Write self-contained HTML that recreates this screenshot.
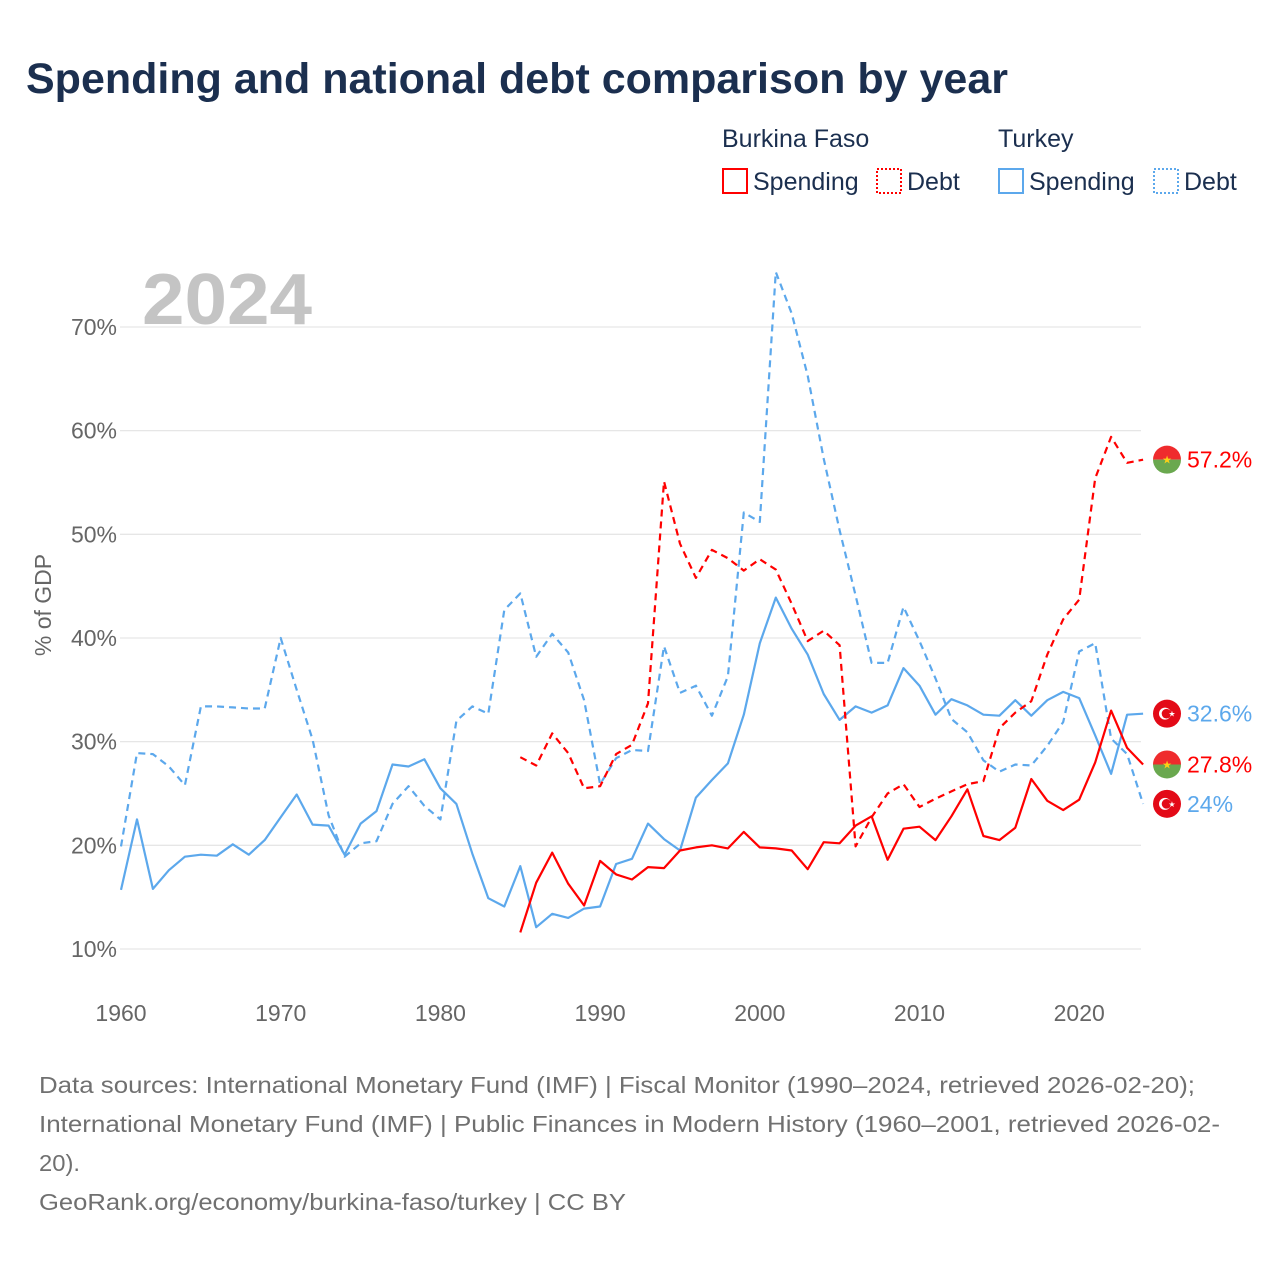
<!DOCTYPE html>
<html><head><meta charset="utf-8">
<style>
body{margin:0;background:#fff;font-family:"Liberation Sans",sans-serif;}
#wrap{position:relative;width:1280px;height:1280px;overflow:hidden;}
svg text{font-family:"Liberation Sans",sans-serif;}
</style></head>
<body>
<div id="wrap">
<svg id="chart" width="1280" height="1280" xmlns="http://www.w3.org/2000/svg">
<text x="26" y="93" font-size="43" font-weight="bold" fill="#1b2f4f">Spending and national debt comparison by year</text>
<g font-size="25" fill="#1b2f4f">
<text x="722" y="147" fill="#1b2f4f">Burkina Faso</text>
<text x="998" y="147" fill="#1b2f4f">Turkey</text>
<g><rect x="723" y="169" width="24" height="24" fill="none" stroke="#ff0000" stroke-width="2"/><text x="753" y="190" fill="#1b2f4f">Spending</text></g>
<g><rect x="877" y="169" width="24" height="24" fill="none" stroke="#ff0000" stroke-width="2" stroke-dasharray="2,2"/><text x="907" y="190" fill="#1b2f4f">Debt</text></g>
<g><rect x="999" y="169" width="24" height="24" fill="none" stroke="#5ca8ec" stroke-width="2"/><text x="1029" y="190" fill="#1b2f4f">Spending</text></g>
<g><rect x="1154" y="169" width="24" height="24" fill="none" stroke="#5ca8ec" stroke-width="2" stroke-dasharray="2,2"/><text x="1184" y="190" fill="#1b2f4f">Debt</text></g>
</g>
<text x="142" y="324" font-size="72" font-weight="bold" fill="#c4c4c4" textLength="170" lengthAdjust="spacingAndGlyphs">2024</text>
<text transform="translate(51,605) rotate(-90)" text-anchor="middle" font-size="23" fill="#666">% of GDP</text>
<g id="grid"></g><g id="xt"></g><g id="series"></g><g id="ends"></g>
<g font-size="23.5" fill="#707070">
<text x="39" y="1093" textLength="1156" lengthAdjust="spacingAndGlyphs">Data sources: International Monetary Fund (IMF) | Fiscal Monitor (1990–2024, retrieved 2026-02-20);</text>
<text x="39" y="1132" textLength="1181" lengthAdjust="spacingAndGlyphs">International Monetary Fund (IMF) | Public Finances in Modern History (1960–2001, retrieved 2026-02-</text>
<text x="39" y="1171" textLength="41" lengthAdjust="spacingAndGlyphs">20).</text>
<text x="39" y="1210" textLength="587" lengthAdjust="spacingAndGlyphs">GeoRank.org/economy/burkina-faso/turkey | CC BY</text>
</g>
</svg>
</div>
<script>
const yTicks=[10,20,30,40,50,60,70];
const xTicks=[1960,1970,1980,1990,2000,2010,2020];
const trSpendStart=1960;
const trSpending=[15.7,22.5,15.8,17.6,18.9,19.1,19.0,20.1,19.1,20.5,22.7,24.9,22.0,21.9,19.1,22.1,23.3,27.8,27.6,28.3,25.5,24.0,19.2,14.9,14.1,18.0,12.1,13.4,13.0,13.9,14.1,18.2,18.7,22.1,20.6,19.5,24.6,26.3,27.9,32.6,39.5,43.9,40.9,38.4,34.6,32.1,33.4,32.8,33.5,37.1,35.4,32.6,34.1,33.5,32.6,32.5,34.0,32.5,34.0,34.8,34.2,30.6,26.9,32.6,32.7];
const trDebt=[19.9,28.9,28.8,27.6,25.8,33.4,33.4,33.3,33.2,33.2,40.0,35.0,30.2,22.9,18.9,20.2,20.4,24.0,25.7,23.8,22.5,32.0,33.4,32.7,42.7,44.3,38.2,40.4,38.6,34.0,25.9,28.4,29.2,29.1,39.2,34.7,35.4,32.5,36.3,52.1,51.2,75.3,71.3,65.3,57.3,50.4,44.1,37.6,37.6,43.0,39.7,36.1,32.2,30.9,28.2,27.1,27.8,27.7,29.6,31.9,38.7,39.5,30.3,28.8,24.0];
const bfStart=1985;
const bfSpending=[11.6,16.4,19.3,16.3,14.2,18.5,17.2,16.7,17.9,17.8,19.5,19.8,20.0,19.7,21.3,19.8,19.7,19.5,17.7,20.3,20.2,21.9,22.8,18.6,21.6,21.8,20.5,22.8,25.4,20.9,20.5,21.7,26.4,24.3,23.4,24.4,28.0,33.0,29.4,27.8];
const bfDebt=[28.5,27.7,30.8,28.9,25.5,25.7,28.8,29.7,33.7,55.1,49.1,45.8,48.5,47.7,46.5,47.6,46.6,43.3,39.7,40.7,39.3,19.9,22.7,25.0,25.9,23.7,24.5,25.2,25.9,26.2,31.3,32.8,33.9,38.4,41.8,43.7,55.4,59.4,56.9,57.2];
const NS='http://www.w3.org/2000/svg';
function X(yr){return 121+(yr-1960)*15.97;}
function Y(v){return 949-(v-10)*10.367;}
function mk(tag,attrs,parent){const e=document.createElementNS(NS,tag);for(const k in attrs)e.setAttribute(k,attrs[k]);parent.appendChild(e);return e;}
const grid=document.getElementById('grid');
yTicks.forEach(t=>{
 const l=mk('line',{x1:120,x2:1141,y1:Y(t),y2:Y(t),stroke:'#e6e6e6','stroke-width':1.3},grid);
 
 
 const tx=mk('text',{x:117,y:Y(t)+8,'text-anchor':'end','font-size':23,fill:'#666'},grid);
 tx.textContent=t+'%';
 
 
});
const xt=document.getElementById('xt');
xTicks.forEach(t=>{
 const tx=mk('text',{x:X(t),y:1021,'text-anchor':'middle','font-size':23,fill:'#666'},xt);
 tx.textContent=t;
 
 
});
const ser=document.getElementById('series');
function line(vals,start,color,dash,name){
 const pts=vals.map((v,i)=>X(start+i).toFixed(1)+','+Y(v).toFixed(1)).join(' ');
 const p=mk('polyline',{points:pts,fill:'none',stroke:color,'stroke-width':2.2,'stroke-linejoin':'round'},ser);
 if(dash)p.setAttribute('stroke-dasharray','7,5');
 
 
}
line(trDebt,trSpendStart,'#5ca8ec',true,'turkey-debt-line');
line(trSpending,trSpendStart,'#5ca8ec',false,'turkey-spending-line');
line(bfDebt,bfStart,'#ff0000',true,'burkina-debt-line');
line(bfSpending,bfStart,'#ff0000',false,'burkina-spending-line');
const ends=document.getElementById('ends');
function flag(v,kind,label,color,name){
 const cy=Y(v),cx=1167;
 const g=mk('g',{},ends);
 
 
 if(kind==='bf'){
  mk('path',{d:`M${cx-14},${cy} A14,14 0 0 1 ${cx+14},${cy} Z`,fill:'#ef2b2d'},g);
  mk('path',{d:`M${cx-14},${cy} A14,14 0 0 0 ${cx+14},${cy} Z`,fill:'#6aa84f'},g);
  mk('text',{x:cx,y:cy+4,'text-anchor':'middle','font-size':11,fill:'#fcd116'},g).textContent='★';
 }else{
  mk('circle',{cx:cx,cy:cy,r:14,fill:'#e30a17'},g);
  mk('circle',{cx:cx-2,cy:cy,r:6,fill:'#fff'},g);
  mk('circle',{cx:cx-0.5,cy:cy,r:4.8,fill:'#e30a17'},g);
  mk('text',{x:cx+5,y:cy+3,'text-anchor':'middle','font-size':8,fill:'#fff'},g).textContent='★';
 }
 const t=mk('text',{x:1187,y:cy+8,'font-size':23,fill:color},g);
 t.textContent=label;
}
flag(bfDebt[bfDebt.length-1],'bf','57.2%','#ff0000','end-label-burkina-debt');
flag(trSpending[trSpending.length-1],'tr','32.6%','#5ca8ec','end-label-turkey-spending');
flag(bfSpending[bfSpending.length-1],'bf','27.8%','#ff0000','end-label-burkina-spending');
flag(trDebt[trDebt.length-1],'tr','24%','#5ca8ec','end-label-turkey-debt');
</script>
</body></html>
